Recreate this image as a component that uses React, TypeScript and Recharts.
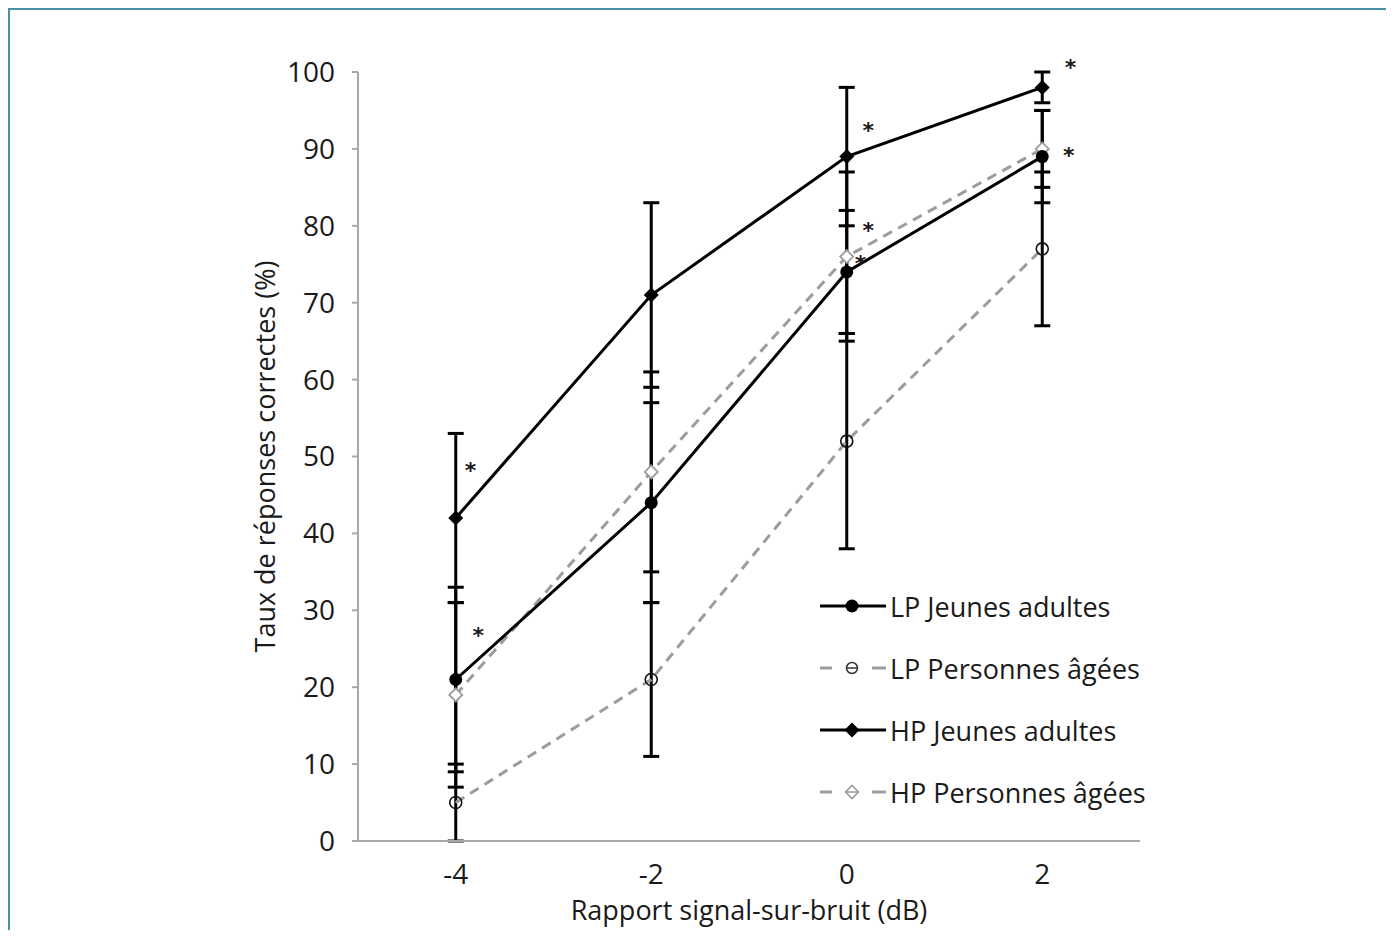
import {
  ComposedChart,
  Line,
  XAxis,
  YAxis,
  ErrorBar,
  Legend,
  ReferenceDot,
} from "recharts";

// rapport signal-sur-bruit (dB)
const snr = [-4, -2, 0, 2];

const lpJeunes = [21, 44, 74, 89];
const lpJeunesSd = [12, 13, 8, 6];
const lpAgees = [5, 21, 52, 77];
const lpAgeesSd = [5, 10, 14, 10];
const hpJeunes = [42, 71, 89, 98];
const hpJeunesSd = [11, 12, 9, 2];
const hpAgees = [19, 48, 76, 90];
const hpAgeesSd = [12, 13, 11, 5];

const yTicks = [0, 10, 20, 30, 40, 50, 60, 70, 80, 90, 100];

// significance stars (x in dB, y in %)
const starX = [-3.85, -3.77, 0.22, 0.22, 0.14, 2.29, 2.27];
const starY = [48.9, 27.4, 93.1, 80.1, 75.8, 101.3, 89.8];

const data = snr.map((s, i) => ({
  snr: s,
  lpJ: lpJeunes[i],
  lpJSd: lpJeunesSd[i],
  lpA: lpAgees[i],
  lpASd: lpAgeesSd[i],
  hpJ: hpJeunes[i],
  hpJSd: hpJeunesSd[i],
  hpA: hpAgees[i],
  hpASd: hpAgeesSd[i],
}));

const FONT = "'Open Sans', 'DejaVu Sans', sans-serif";
const TEXT = "#1a1a1a";
const GREY = "#9c9c9c";
const AXIS = "#a8a8a8";

const filledCircle = (p: any) => (
  <circle key={"fc" + p.index} cx={p.cx} cy={p.cy} r={6.5} fill="#000" />
);
const openCircle = (p: any) => (
  <circle
    key={"oc" + p.index}
    cx={p.cx}
    cy={p.cy}
    r={6}
    fill="none"
    stroke="#111"
    strokeWidth={1.6}
  />
);
const diamond = (cx: number, cy: number, s: number) =>
  `M${cx},${cy - s}L${cx + s},${cy}L${cx},${cy + s}L${cx - s},${cy}Z`;
const filledDiamond = (p: any) => (
  <path key={"fd" + p.index} d={diamond(p.cx, p.cy, 7.5)} fill="#000" />
);
const openDiamond = (p: any) => (
  <path
    key={"od" + p.index}
    d={diamond(p.cx, p.cy, 6.5)}
    fill="#fff"
    stroke={GREY}
    strokeWidth={1.8}
  />
);

const legendItems = [
  { label: "LP Jeunes adultes", dashed: false, marker: "fc" },
  { label: "LP Personnes âgées", dashed: true, marker: "oc" },
  { label: "HP Jeunes adultes", dashed: false, marker: "fd" },
  { label: "HP Personnes âgées", dashed: true, marker: "od" },
];

const LegendMarker = ({ kind }: { kind: string }) => {
  if (kind === "fc") return <circle cx={32} cy={12} r={6.5} fill="#000" />;
  if (kind === "fd") return <path d={diamond(32, 12, 7.5)} fill="#000" />;
  if (kind === "oc")
    return (
      <g stroke="#333" strokeWidth={1.5} fill="none">
        <circle cx={32} cy={12} r={5.5} />
        <line x1={27} y1={12} x2={37} y2={12} />
      </g>
    );
  return (
    <g stroke={GREY} strokeWidth={1.6} fill="#fff">
      <path d={diamond(32, 12, 6.5)} />
      <line x1={26} y1={12} x2={38} y2={12} />
    </g>
  );
};

const renderLegend = () => (
  <div style={{ fontFamily: FONT }}>
    {legendItems.map((it) => (
      <div
        key={it.label}
        style={{ display: "flex", alignItems: "center", height: 62 }}
      >
        <svg width={68} height={24} style={{ marginRight: 2 }}>
          {it.dashed ? (
            <g stroke={GREY} strokeWidth={3}>
              <line x1={0} y1={12} x2={12} y2={12} />
              <line x1={52} y1={12} x2={66} y2={12} />
            </g>
          ) : (
            <line x1={0} y1={12} x2={66} y2={12} stroke="#000" strokeWidth={3} />
          )}
          <LegendMarker kind={it.marker} />
        </svg>
        <span style={{ fontSize: 27, color: TEXT }}>{it.label}</span>
      </div>
    ))}
  </div>
);

const Star = (p: any) => (
  <text
    x={p.cx}
    y={p.cy + 13}
    textAnchor="middle"
    fontSize={22}
    fontWeight="bold"
    fontFamily="'DejaVu Sans', sans-serif"
    fill={TEXT}
  >
    *
  </text>
);

export default function App() {
  return (
    <div
      style={{
        width: 1379,
        height: 950,
        marginBottom: -30,
        borderTop: "2px solid #4a8fa6",
        borderLeft: "2px solid #4a8fa6",
        borderRight: "2px solid #4a8fa6",
        background: "#fff",
      }}
    >
      <ComposedChart
        width={1379}
        height={930}
        data={data}
        margin={{ top: 62, right: 249, bottom: 19, left: 162 }}
      >
        <XAxis
          dataKey="snr"
          type="number"
          domain={[-5, 3]}
          ticks={snr}
          tickLine={false}
          tickSize={6}
          tickMargin={17}
          height={80}
          stroke={AXIS}
          strokeWidth={2}
          tick={{ fill: TEXT, fontSize: 28, fontFamily: FONT }}
          label={{
            value: "Rapport signal-sur-bruit (dB)",
            position: "insideBottom",
            offset: 1,
            fill: TEXT,
            fontSize: 27,
            fontFamily: FONT,
          }}
        />
        <YAxis
          type="number"
          domain={[0, 100]}
          ticks={yTicks}
          width={186}
          tickSize={6}
          tickMargin={17}
          stroke={AXIS}
          strokeWidth={2}
          tick={{ fill: TEXT, fontSize: 28, fontFamily: FONT }}
          label={{
            value: "Taux de réponses correctes (%)",
            angle: -90,
            position: "center",
            fill: TEXT,
            fontSize: 27,
            fontFamily: FONT,
          }}
        />
        <Legend
          layout="vertical"
          align="center"
          verticalAlign="middle"
          content={renderLegend}
          wrapperStyle={{ left: 810, top: 565, width: 400 }}
        />
        <Line
          dataKey="lpA"
          stroke={GREY}
          strokeWidth={3}
          strokeDasharray="10 7"
          dot={openCircle}
          activeDot={false}
          isAnimationActive={false}
        >
          <ErrorBar dataKey="lpASd" direction="y" width={8} stroke="#000" strokeWidth={3} />
        </Line>
        <Line
          dataKey="hpA"
          stroke={GREY}
          strokeWidth={3}
          strokeDasharray="10 7"
          dot={openDiamond}
          activeDot={false}
          isAnimationActive={false}
        >
          <ErrorBar dataKey="hpASd" direction="y" width={8} stroke="#000" strokeWidth={3} />
        </Line>
        <Line
          dataKey="lpJ"
          stroke="#000"
          strokeWidth={3}
          dot={filledCircle}
          activeDot={false}
          isAnimationActive={false}
        >
          <ErrorBar dataKey="lpJSd" direction="y" width={8} stroke="#000" strokeWidth={3} />
        </Line>
        <Line
          dataKey="hpJ"
          stroke="#000"
          strokeWidth={3}
          dot={filledDiamond}
          activeDot={false}
          isAnimationActive={false}
        >
          <ErrorBar dataKey="hpJSd" direction="y" width={8} stroke="#000" strokeWidth={3} />
        </Line>
        {starX.map((x, i) => (
          <ReferenceDot
            key={"star" + i}
            x={x}
            y={starY[i]}
            r={0}
            ifOverflow="visible"
            shape={Star}
          />
        ))}
      </ComposedChart>
    </div>
  );
}
